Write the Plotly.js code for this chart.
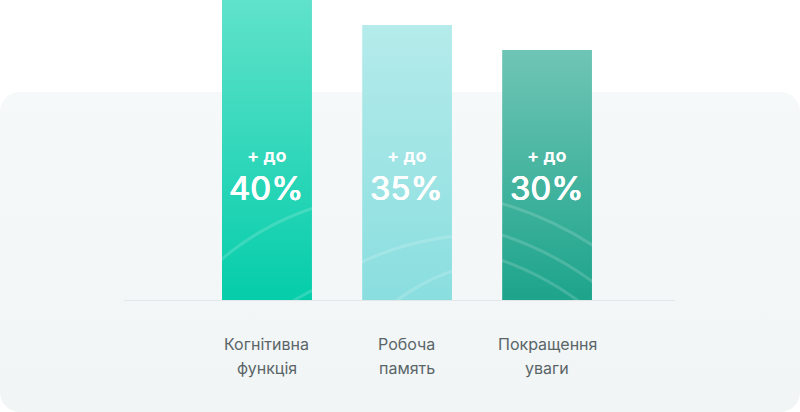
<!DOCTYPE html>
<html>
<head>
<meta charset="utf-8">
<script src="https://cdn.plot.ly/plotly-3.0.1.min.js"></script>
<style>
  html, body { margin: 0; padding: 0; background: #ffffff; }
  #wrap { position: relative; width: 800px; height: 412px; overflow: hidden; }
  #panel {
    position: absolute; left: 0; top: 92px; width: 800px; height: 320px;
    border-radius: 20px;
    background: linear-gradient(180deg, #f6f9f9 0%, #f1f5f6 100%);
  }
  #chart { position: absolute; left: 0; top: 0; width: 800px; height: 412px; }
  #defs { position: absolute; width: 0; height: 0; }
</style>
</head>
<body>
<svg id="defs" width="0" height="0"><defs></defs></svg>
<div id="wrap">
  <div id="panel"></div>
  <div id="chart"></div>
</div>
<script>
// categories and values as shown on the bars
var categories = ['Когнітивна<br>функція', 'Робоча<br>память', 'Покращення<br>уваги'];
var values = [40, 35, 30];
var prefix = '+ до';
var valueLabels = ['40%', '35%', '30%'];

// bar colours, top -> bottom of the gradient
var topColors = ['#60e2cb', '#b5ebeb', '#6fc5b5'];
var bottomColors = ['#05cdaa', '#8adedf', '#1da48b'];

// faint decorative rings inside each bar: centre relative to bar bottom-left, radius
var rings = [
  [[178, 170, 276], [178, 170, 200]],
  [[120, 215, 280], [156, 161, 201]],
  [[-100, 240, 351], [-100, 240, 321], [-100, 240, 297]]
];

var FLOOR = -20; // axis floor, bars start here

var ns = 'http://www.w3.org/2000/svg';
var defs = document.querySelector('#defs defs');
function el(name, attrs) {
  var e = document.createElementNS(ns, name);
  for (var a in attrs) e.setAttribute(a, attrs[a]);
  return e;
}

// gradients used for the bar fill
for (var i = 0; i < values.length; i++) {
  var g = el('linearGradient', { id: 'barGrad' + i, x1: 0, y1: 0, x2: 0, y2: 1 });
  g.appendChild(el('stop', { offset: 0, 'stop-color': topColors[i] }));
  g.appendChild(el('stop', { offset: 1, 'stop-color': bottomColors[i] }));
  defs.appendChild(g);
}

var trace = {
  type: 'bar',
  x: categories,
  y: values.map(function(v) { return v - FLOOR; }),
  base: FLOOR,
  width: 0.643,
  marker: { color: bottomColors, line: { width: 0 } },
  hoverinfo: 'none'
};

var annotations = [];
var fontFamily = 'Inter, Roboto, "Noto Sans", sans-serif';
for (var j = 0; j < categories.length; j++) {
  annotations.push({
    x: categories[j], xref: 'x', y: 0.4825, yref: 'paper',
    text: prefix, showarrow: false, yanchor: 'middle',
    font: { family: fontFamily, size: 18, color: '#ffffff', weight: 700 }
  });
  // no medium cut installed, thicken the regular face a little
  annotations.push({
    x: categories[j], xref: 'x', y: 0.372, yref: 'paper',
    text: valueLabels[j], showarrow: false, yanchor: 'middle',
    font: {
      family: fontFamily, size: 33, color: '#ffffff', weight: 400,
      shadow: '0.45px 0 0 #ffffff, -0.45px 0 0 #ffffff, 0 0.3px 0 #ffffff'
    }
  });
  var lines = categories[j].split('<br>');
  for (var k = 0; k < lines.length; k++) {
    annotations.push({
      x: categories[j], xref: 'x', y: -0.1452 - k * 0.0801, yref: 'paper',
      text: lines[k], showarrow: false, yanchor: 'middle',
      font: { family: fontFamily, size: 16, color: '#5a6568' }
    });
  }
}

var layout = {
  width: 800,
  height: 412,
  margin: { l: 124, r: 125, t: 0, b: 112, pad: 0 },
  paper_bgcolor: 'rgba(0,0,0,0)',
  plot_bgcolor: 'rgba(0,0,0,0)',
  showlegend: false,
  xaxis: {
    type: 'category',
    range: [-1.021, 2.914],
    showline: true, linecolor: '#e2e7e9', linewidth: 1,
    showgrid: false, zeroline: false, showticklabels: false, ticks: '',
    fixedrange: true
  },
  yaxis: {
    range: [FLOOR, 40],
    visible: false,
    fixedrange: true
  },
  annotations: annotations
};

Plotly.newPlot('chart', [trace], layout, { displayModeBar: false, staticPlot: true }).then(function() {
  var paths = document.querySelectorAll('#chart .bars .point path');
  paths.forEach(function(p, idx) {
    var bb = p.getBBox();
    var pat = el('pattern', {
      id: 'barPat' + idx, patternUnits: 'userSpaceOnUse',
      x: 0, y: 0, width: bb.x + bb.width + 20, height: bb.y + bb.height + 20
    });
    pat.appendChild(el('rect', {
      x: bb.x, y: bb.y, width: bb.width, height: bb.height, fill: 'url(#barGrad' + idx + ')'
    }));
    (rings[idx] || []).forEach(function(r) {
      pat.appendChild(el('circle', {
        cx: bb.x + r[0], cy: bb.y + bb.height + r[1], r: r[2],
        fill: 'none', stroke: 'rgba(255,255,255,0.16)', 'stroke-width': 3
      }));
    });
    defs.appendChild(pat);
    p.style.fill = 'url(#barPat' + idx + ')';
  });
});
</script>
</body>
</html>
